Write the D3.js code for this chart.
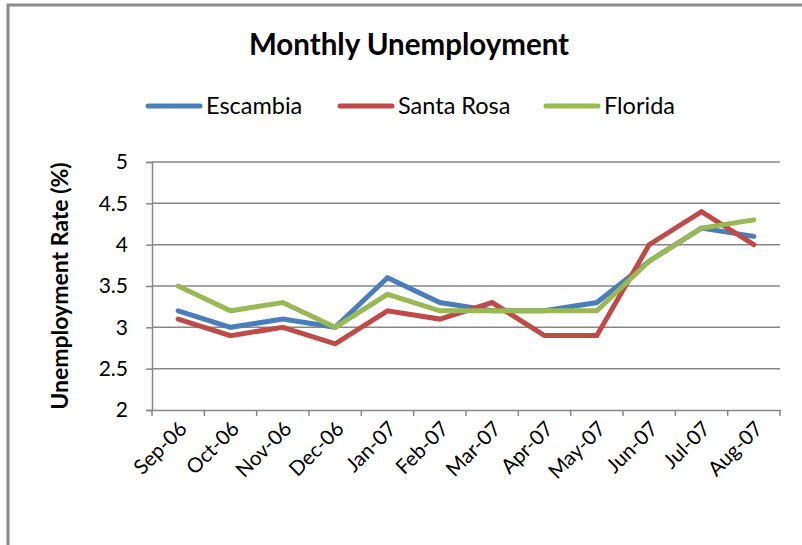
<!DOCTYPE html>
<html><head><meta charset="utf-8">
<script src="https://cdn.jsdelivr.net/npm/d3@7"></script>
<style>body{margin:0;background:#fff}svg{display:block}</style>
</head><body>
<svg id="c" width="802" height="545"></svg>
<script>
const categories = ["Sep-06","Oct-06","Nov-06","Dec-06","Jan-07","Feb-07","Mar-07","Apr-07","May-07","Jun-07","Jul-07","Aug-07"];
const escambia  = [3.2, 3.0, 3.1, 3.0, 3.6, 3.3, 3.2, 3.2, 3.3, 3.8, 4.2, 4.1];
const santaRosa = [3.1, 2.9, 3.0, 2.8, 3.2, 3.1, 3.3, 2.9, 2.9, 4.0, 4.4, 4.0];
const florida   = [3.5, 3.2, 3.3, 3.0, 3.4, 3.2, 3.2, 3.2, 3.2, 3.8, 4.2, 4.3];
const seriesNames = ["Escambia", "Santa Rosa", "Florida"];
const yTicks = [2, 2.5, 3, 3.5, 4, 4.5, 5];
const colors = ["#4a7ebb", "#be4b48", "#98b954"];
const series = [escambia, santaRosa, florida];

const svg = d3.select("#c");
const font = "Lato, 'Open Sans', sans-serif";

// outer frame (cropped on right and bottom)
svg.append("path").attr("d","M8,545 V5 H802").attr("fill","none").attr("stroke","#8c8c8c").attr("stroke-width",3);

const L = 152, R = 780, T = 162, B = 410;
const x = d3.scaleBand().domain(categories).range([L, R]).paddingInner(0).paddingOuter(0);
const y = d3.scaleLinear().domain([2, 5]).range([B, T]);

// gridlines
svg.append("g").selectAll("line").data(yTicks.filter(d=>d>2)).join("line")
  .attr("x1", L).attr("x2", R).attr("y1", d=>y(d)).attr("y2", d=>y(d))
  .attr("stroke","#878787").attr("stroke-width",1.5);

// y axis
const yAxis = svg.append("g").attr("transform",`translate(${L},0)`)
  .call(d3.axisLeft(y).tickValues(yTicks).tickFormat(d3.format("")).tickSize(6).tickPadding(18));
yAxis.select(".domain").attr("stroke","#878787").attr("stroke-width",1.5);
yAxis.selectAll(".tick line").attr("stroke","#878787").attr("stroke-width",1.5);
yAxis.selectAll("text").attr("font-family",font).attr("font-size",21).attr("fill","#000");

// x axis
const xAxis = svg.append("g").attr("transform",`translate(0,${B})`)
  .call(d3.axisBottom(x).tickSize(0).tickFormat(""));
xAxis.select(".domain").attr("stroke","#878787").attr("stroke-width",1.5);
const tickPos = categories.map(c=>x(c)).concat([R]);
svg.append("g").selectAll("line").data(tickPos).join("line")
  .attr("x1",d=>d).attr("x2",d=>d).attr("y1",B).attr("y2",B+6)
  .attr("stroke","#878787").attr("stroke-width",1.5);
svg.append("g").selectAll("text").data(categories).join("text")
  .attr("transform", d=>`translate(${x(d)+x.bandwidth()/2+10},${B+20}) rotate(-45)`)
  .attr("text-anchor","end").attr("font-family",font).attr("font-size",20.5).attr("fill","#000")
  .text(d=>d);

// lines
const line = d3.line().x((d,i)=>x(categories[i])+x.bandwidth()/2).y(d=>y(d));
svg.append("g").selectAll("path").data(series).join("path")
  .attr("d", line).attr("fill","none").attr("stroke",(d,i)=>colors[i])
  .attr("stroke-width",5).attr("stroke-linejoin","miter").attr("stroke-linecap","round");

// title
svg.append("text").attr("x",409).attr("y",55).attr("text-anchor","middle")
  .attr("font-family",font).attr("font-weight","bold").attr("font-size",29.5).attr("fill","#000")
  .text("Monthly Unemployment");

// y title
svg.append("text").attr("transform","translate(68,286) rotate(-90)").attr("text-anchor","middle")
  .attr("font-family",font).attr("font-weight","bold").attr("font-size",23).attr("fill","#000")
  .text("Unemployment Rate (%)");

// legend
const legX = [148, 340, 546];
const leg = svg.append("g").selectAll("g").data(seriesNames).join("g")
  .attr("transform",(d,i)=>`translate(${legX[i]},106)`);
leg.append("line").attr("x1",0).attr("x2",52).attr("y1",0).attr("y2",0)
  .attr("stroke",(d,i)=>colors[i]).attr("stroke-width",5).attr("stroke-linecap","round");
leg.append("text").attr("x",58).attr("y",8).attr("font-family",font).attr("font-size",23.5).attr("fill","#000")
  .text(d=>d);
</script>
</body></html>
